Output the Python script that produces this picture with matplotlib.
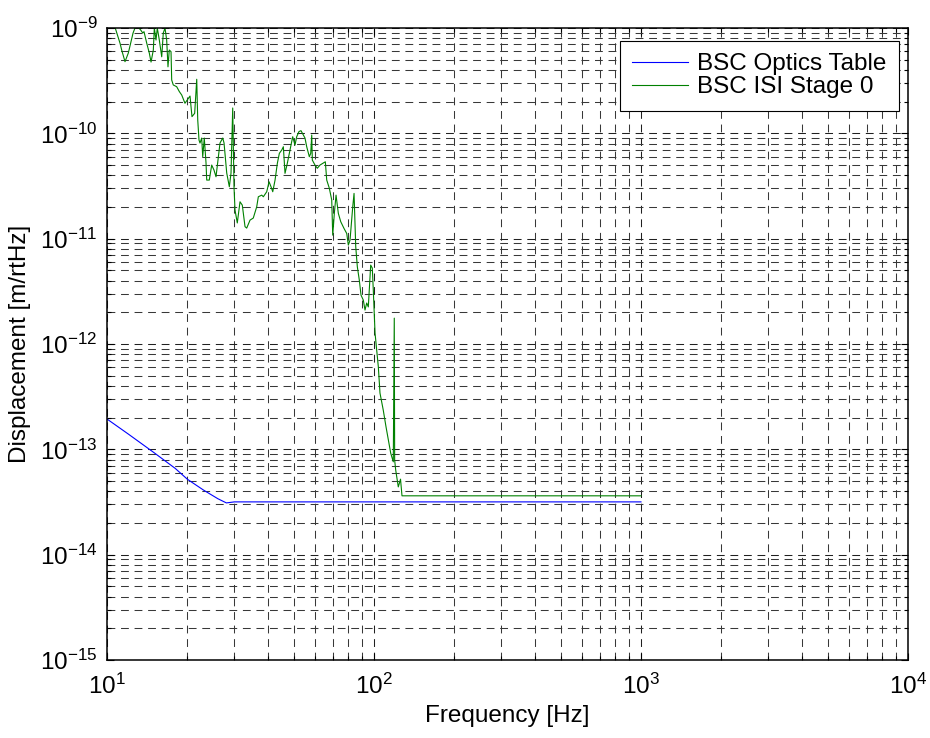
import matplotlib
matplotlib.use("Agg")
import matplotlib.pyplot as plt
from matplotlib.ticker import LogLocator, FixedLocator, FixedFormatter, NullFormatter

plt.rcParams['font.family'] = ['Liberation Sans', 'DejaVu Sans']
plt.rcParams['mathtext.fontset'] = 'custom'
plt.rcParams['mathtext.rm'] = 'Liberation Sans'
plt.rcParams['mathtext.it'] = 'Liberation Sans:italic'
plt.rcParams['mathtext.bf'] = 'Liberation Sans:bold'

# ---------------- data ----------------
table_freq = [10, 12, 15, 18, 20, 23, 26, 28, 30, 100, 1000]
table_disp = [1.94e-13, 1.40e-13, 9.3e-14, 6.6e-14, 5.2e-14, 4.1e-14, 3.4e-14,
              3.1e-14, 3.17e-14, 3.17e-14, 3.17e-14]

isi_freq = [10.44, 10.71, 11.19, 11.35, 11.68, 12.02, 12.27, 12.52, 12.73, 13.07,
            13.37, 13.61, 13.76, 14.08, 14.40, 14.62, 14.91, 15.04, 15.26, 15.43,
            15.70, 16.03, 16.25, 16.49, 16.73, 16.92, 17.11, 17.37, 17.47, 17.71,
            18.24, 18.66, 19.05, 19.59, 19.98, 20.46, 20.81, 21.30, 21.68, 21.87,
            22.11, 22.30, 22.63, 22.83, 23.14, 23.49, 23.63, 24.16, 24.67, 25.16,
            25.60, 26.12, 26.50, 27.13, 27.44, 28.08, 28.72, 29.14, 29.57, 29.90,
            30.16, 30.76, 31.49, 32.12, 32.88, 33.36, 34.33, 35.31, 36.37, 36.88,
            37.98, 38.51, 39.65, 40.45, 41.15, 41.76, 42.60, 43.45, 44.21, 45.13,
            45.76, 46.42, 47.35, 48.46, 49.60, 50.59, 51.34, 52.37, 53.28, 54.35,
            55.15, 55.97, 57.25, 57.95, 58.45, 58.75, 60.12, 61.33, 62.78, 64.26,
            65.72, 66.52, 68.03, 69.45, 70.05, 71.03, 72.08, 73.52, 75.06, 77.22,
            79.05, 80.14, 81.33, 83.25, 84.19, 85.43, 86.61, 88.10, 89.41, 91.20,
            92.53, 93.91, 95.21, 97.19, 98.54, 99.40, 100.9, 103.8, 105.3, 108.3,
            110.9, 113.2, 115.5, 118.1, 119.1, 119.5, 120.6, 123.3, 125.7, 127.3,
            1000]
isi_disp = [1.19e-9, 1.02e-9, 7.16e-10, 6.18e-10, 4.79e-10, 5.79e-10, 7.21e-10, 8.97e-10, 1.0e-9, 1.02e-9,
            9.57e-10, 8.97e-10, 9.23e-10, 7.21e-10, 5.79e-10, 4.75e-10, 6.18e-10, 1.0e-9, 7.69e-10, 1.0e-9,
            7.69e-10, 5.33e-10, 8.97e-10, 1.0e-9, 7.69e-10, 4.28e-10, 6.18e-10, 5.96e-10, 3.21e-10, 2.88e-10,
            2.77e-10, 2.49e-10, 2.31e-10, 1.93e-10, 2.07e-10, 2.26e-10, 1.44e-10, 1.55e-10, 3.26e-10, 1.34e-10,
            8.63e-11, 8.09e-11, 9.02e-11, 6.0e-11, 9.02e-11, 5.22e-11, 3.60e-11, 3.60e-11, 5.0e-11, 4.48e-11,
            3.87e-11, 6.0e-11, 8.09e-11, 9.02e-11, 8.09e-11, 4.20e-11, 3.11e-11, 4.20e-11, 1.74e-10, 3.11e-11,
            1.87e-11, 1.41e-11, 2.24e-11, 2.08e-11, 1.30e-11, 1.26e-11, 1.50e-11, 1.57e-11, 2.01e-11, 2.50e-11,
            2.59e-11, 2.50e-11, 2.79e-11, 3.47e-11, 3.11e-11, 2.79e-11, 3.60e-11, 5.19e-11, 6.46e-11, 6.94e-11,
            7.46e-11, 4.17e-11, 5.19e-11, 6.94e-11, 9.29e-11, 7.74e-11, 9.29e-11, 1.04e-10, 1.06e-10, 9.64e-11,
            9.02e-11, 7.46e-11, 6.0e-11, 6.46e-11, 9.64e-11, 5.57e-11, 5.0e-11, 4.66e-11, 5.0e-11, 5.19e-11,
            5.37e-11, 3.60e-11, 3.01e-11, 2.33e-11, 1.08e-11, 1.74e-11, 2.59e-11, 1.74e-11, 1.45e-11, 1.25e-11,
            1.12e-11, 8.69e-12, 9.70e-12, 2.01e-11, 2.69e-11, 8.37e-12, 5.41e-12, 4.04e-12, 2.91e-12, 2.61e-12,
            2.10e-12, 2.45e-12, 2.25e-12, 5.61e-12, 5.26e-12, 3.25e-12, 1.27e-12, 6.08e-13, 3.42e-13, 2.36e-13,
            1.64e-13, 1.22e-13, 9.20e-14, 7.61e-14, 1.76e-12, 7.9e-14, 6.34e-14, 4.40e-14, 5.21e-14, 3.62e-14,
            3.62e-14]

series_labels = ['BSC Optics Table', 'BSC ISI Stage 0']
x_ticks = [1e1, 1e2, 1e3, 1e4]
x_tick_labels = [r'$\mathregular{10^{1}}$', r'$\mathregular{10^{2}}$',
                 r'$\mathregular{10^{3}}$', r'$\mathregular{10^{4}}$']
y_ticks = [1e-15, 1e-14, 1e-13, 1e-12, 1e-11, 1e-10, 1e-9]
y_tick_labels = [r'$\mathregular{10^{-15}}$', r'$\mathregular{10^{-14}}$',
                 r'$\mathregular{10^{-13}}$', r'$\mathregular{10^{-12}}$',
                 r'$\mathregular{10^{-11}}$', r'$\mathregular{10^{-10}}$',
                 r'$\mathregular{10^{-9}}$']

# ---------------- figure ----------------
FS = 17.5
fig = plt.figure(figsize=(9.3, 7.38), dpi=100)
ax = fig.add_axes([107/930, 78/738, 801/930, 632/738])

ax.loglog(table_freq, table_disp, color='#0000ff', lw=0.8, label=series_labels[0])
ax.loglog(isi_freq, isi_disp, color='#008000', lw=0.8, label=series_labels[1])

ax.set_xlim(1e1, 1e4)
ax.set_ylim(1e-15, 1e-9)

ax.xaxis.set_major_locator(FixedLocator(x_ticks))
ax.xaxis.set_major_formatter(FixedFormatter(x_tick_labels))
ax.yaxis.set_major_locator(FixedLocator(y_ticks))
ax.yaxis.set_major_formatter(FixedFormatter(y_tick_labels))
ax.xaxis.set_minor_locator(LogLocator(base=10, subs=range(2, 10), numticks=20))
ax.yaxis.set_minor_locator(LogLocator(base=10, subs=range(2, 10), numticks=20))
ax.xaxis.set_minor_formatter(NullFormatter())
ax.yaxis.set_minor_formatter(NullFormatter())

dash = (0, (7.5, 5.5))
ax.grid(True, which='major', linestyle=dash, color='#202020', linewidth=0.75)
ax.grid(True, which='minor', linestyle=dash, color='#383838', linewidth=0.75)
ax.set_axisbelow(True)

ax.tick_params(which='both', direction='in', top=True, right=True, width=0.8,
               labelsize=FS, color='black')
ax.tick_params(which='major', length=5)
ax.tick_params(which='minor', length=3)
ax.tick_params(axis='x', which='major', pad=10)
ax.tick_params(axis='y', which='major', pad=7)
for s in ax.spines.values():
    s.set_linewidth(1.1)
    s.set_color('black')

ax.set_xlabel('Frequency [Hz]', fontsize=FS, labelpad=4)
ax.set_ylabel('Displacement [m/rtHz]', fontsize=FS, labelpad=6)

leg = ax.legend(loc='upper right', bbox_to_anchor=((899-107)/801, (660-41)/632),
                bbox_transform=ax.transAxes, borderaxespad=0, fontsize=FS,
                fancybox=False, framealpha=1, edgecolor='black',
                handlelength=2.3, handletextpad=0.38, labelspacing=0.05,
                borderpad=0.5)
leg.get_frame().set_linewidth(0.8)

fig.savefig('out.png', dpi=100)
